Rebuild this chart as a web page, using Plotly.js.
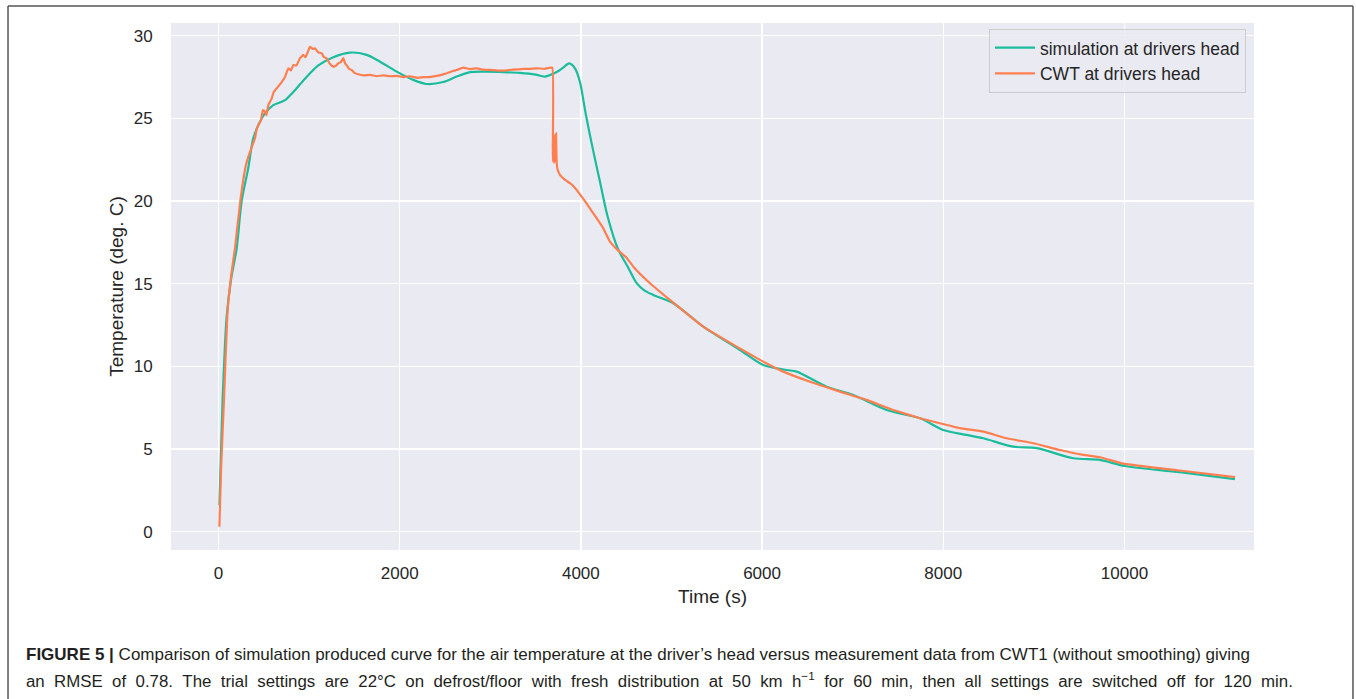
<!DOCTYPE html>
<html>
<head>
<meta charset="utf-8">
<script src="https://cdn.plot.ly/plotly-3.0.1.min.js"></script>
<style>html,body{margin:0;padding:0;background:#fff;}#chart{width:1356px;height:699px;}</style>
</head>
<body>
<div id="chart"></div>
<script>
// Simulation at driver's head (time s, temperature deg C)
const simTime = [10,46,90,140,200,256,329,384,450,513,605,734,826,955,1102,1267,1451,1636,1783,1967,2150,2298,2481,2629,2776,2960,3150,3328,3500,3604,3733,3800,3872,3935,3990,4056,4130,4211,4291,4410,4520,4616,4700,4799,5020,5351,5756,6013,6272,6382,6713,7007,7375,7743,8000,8258,8442,8773,9031,9435,9730,10000,10610,11220];
const simTemp = [1.6,8.0,13.0,15.3,17.1,20.0,22.0,23.8,24.7,25.3,25.8,26.1,26.6,27.4,28.2,28.7,28.98,28.84,28.43,27.83,27.33,27.08,27.2,27.53,27.8,27.83,27.8,27.75,27.65,27.53,27.8,28.05,28.33,28.03,27.2,25.2,23.2,21.17,19.16,17.1,16.0,15.03,14.6,14.32,13.82,12.4,10.99,10.08,9.78,9.68,8.77,8.27,7.36,6.86,6.15,5.85,5.65,5.14,5.05,4.44,4.34,3.97,3.6,3.18];

// CWT measurement at driver's head
const cwtTime = [10,30,61,98,140,182,245,303,350,403,420,440,470,490,513,530,550,587,610,642,670,698,734,771,800,826,860,900,936,960,985,1010,1040,1065,1100,1139,1165,1194,1230,1267,1300,1322,1350,1378,1400,1414,1440,1470,1500,1543,1600,1672,1750,1820,1900,1967,2040,2114,2200,2261,2330,2408,2470,2519,2580,2629,2702,2780,2850,2920,2997,3070,3143,3250,3364,3440,3512,3600,3684,3690,3700,3706,3714,3720,3726,3732,3740,3769,3825,3880,3924,4009,4100,4174,4247,4321,4413,4500,4579,4763,4983,5351,5720,5977,6234,6529,6860,7154,7448,7743,7963,8184,8442,8700,8994,9288,9545,9730,10000,10610,11220];
const cwtTemp = [0.3,4.0,8.0,13.1,15.5,17.14,20.17,22.18,23.0,23.8,24.3,24.6,24.9,25.5,25.41,25.2,25.8,26.2,26.6,26.82,27.0,27.2,27.5,28.03,27.9,28.23,28.2,28.64,28.84,28.7,29.0,29.34,29.2,29.24,29.0,28.94,28.7,28.64,28.3,28.13,28.2,28.33,28.4,28.64,28.3,28.23,28.0,27.93,27.75,27.67,27.6,27.63,27.55,27.6,27.55,27.57,27.5,27.55,27.45,27.49,27.5,27.57,27.65,27.73,27.85,27.93,28.07,27.98,28.03,27.95,27.93,27.9,27.89,27.95,27.99,28.0,28.03,28.0,28.07,22.4,22.6,22.3,24.0,22.4,24.1,22.5,21.98,21.58,21.28,21.08,20.87,20.27,19.56,18.96,18.35,17.54,17.0,16.6,16.03,15.03,14.02,12.4,11.19,10.39,9.68,9.07,8.47,7.97,7.36,6.86,6.56,6.26,6.05,5.65,5.35,4.94,4.64,4.5,4.1,3.7,3.3];

const xTicks = [0,2000,4000,6000,8000,10000];
const yTicks = [0,5,10,15,20,25,30];
const seriesNames = ['simulation at drivers head','CWT at drivers head'];

const font = 'Liberation Sans, Arial, Helvetica, sans-serif';
const gap = ' \u00A0';
const caption2 = 'an RMSE of 0.78. The trial settings are 22°C on defrost/floor with fresh distribution at 50 km h<sup>−1</sup> for 60 min, then all settings are switched off for 120 min.'.split(' ').join(gap);

const traces = [
  {x: simTime, y: simTemp, type: 'scatter', mode: 'lines', name: seriesNames[0],
   line: {color: '#1abc9c', width: 2.2, shape: 'spline', smoothing: 0.8}},
  {x: cwtTime, y: cwtTemp, type: 'scatter', mode: 'lines', name: seriesNames[1],
   line: {color: '#ff7f50', width: 2.2, shape: 'spline', smoothing: 0.3}}
];

const frame = {color: '#555555', width: 1.5};
const layout = {
  width: 1356, height: 699,
  margin: {l: 171, r: 102, t: 23, b: 149},
  paper_bgcolor: '#ffffff', plot_bgcolor: '#eaeaf2',
  font: {family: font, color: '#262626'},
  xaxis: {
    range: [-524, 11430], tickmode: 'array', tickvals: xTicks, ticktext: xTicks.map(String),
    showgrid: true, gridcolor: '#ffffff', gridwidth: 1.5, zeroline: false, showline: false,
    ticks: 'outside', ticklen: 8, tickcolor: 'rgba(0,0,0,0)',
    tickfont: {size: 17, color: '#262626'},
    title: {text: 'Time (s)', font: {size: 19, color: '#262626'}, standoff: 7}
  },
  yaxis: {
    range: [-1.11, 30.77], tickmode: 'array', tickvals: yTicks, ticktext: yTicks.map(String),
    showgrid: true, gridcolor: '#ffffff', gridwidth: 1.5, zeroline: false, showline: false,
    ticks: 'outside', ticklen: 14, tickcolor: 'rgba(0,0,0,0)',
    tickfont: {size: 17, color: '#262626'},
    title: {text: 'Temperature (deg. C)', font: {size: 19, color: '#262626'}, standoff: 5}
  },
  legend: {
    x: 0.9926, y: 0.989, xanchor: 'right', yanchor: 'top',
    bgcolor: 'rgba(234,234,242,0.85)', bordercolor: '#cccccc', borderwidth: 1,
    font: {size: 17.5, color: '#262626'}, itemwidth: 40, tracegroupgap: 0
  },
  shapes: [
    {type: 'line', xref: 'paper', yref: 'paper', x0: -0.1505, x1: 1.0914, y0: 1.0323, y1: 1.0323, line: frame},
    {type: 'line', xref: 'paper', yref: 'paper', x0: -0.1505, x1: -0.1505, y0: 1.0323, y1: -0.29, line: frame},
    {type: 'line', xref: 'paper', yref: 'paper', x0: 1.0914, x1: 1.0914, y0: 1.0323, y1: -0.29, line: frame}
  ],
  annotations: [
    {xref: 'paper', yref: 'paper', x: -0.1357, y: -0.1992, xanchor: 'left', yanchor: 'middle', showarrow: false,
     align: 'left', font: {family: font, size: 17, color: '#231f20'},
     text: '<b>FIGURE 5 |</b> Comparison of simulation produced curve for the air temperature at the driver’s head versus measurement data from CWT1 (without smoothing) giving'},
    {xref: 'paper', yref: 'paper', x: -0.1357, y: -0.2467, xanchor: 'left', yanchor: 'middle', showarrow: false,
     align: 'left', font: {family: font, size: 16.85, color: '#231f20'},
     text: caption2}
  ]
};

Plotly.newPlot('chart', traces, layout, {displayModeBar: false, staticPlot: true});
</script>
</body>
</html>
